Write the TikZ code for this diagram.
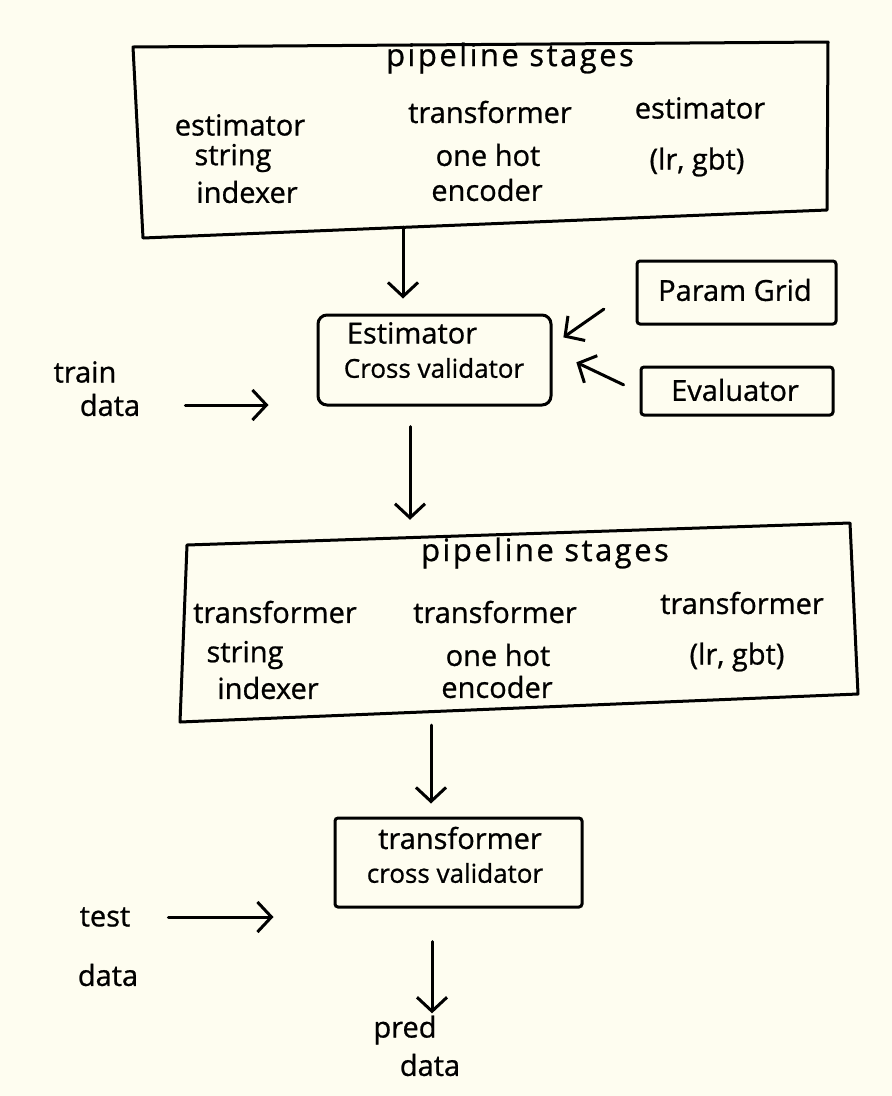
\documentclass[tikz,border=0pt]{standalone}
\usepackage{fontspec}
\setmainfont{Open Sans}[FakeBold=0.8]
\usetikzlibrary{arrows.meta}
\definecolor{paper}{HTML}{FEFDF0}
\begin{document}
\begin{tikzpicture}[x=1pt,y=-1pt,
  txt/.style={inner sep=0pt,font=\fontsize{29}{31}\selectfont},
  ttl/.style={inner sep=0pt,font=\fontsize{31}{33}\selectfont\addfontfeature{LetterSpace=8}},
  stxt/.style={inner sep=0pt,font=\fontsize{26}{28}\selectfont},
  box/.style={draw,line width=3pt,inner sep=0pt,rounded corners=3pt},
  ghost/.style={draw=none,inner sep=0pt},
  outline/.style={line width=3pt,line join=round},
  flow/.style={line width=3pt,line cap=round,-{Straight Barb[length=14pt,width=30pt,line width=3pt]}}]
\fill[paper] (0,0) rectangle (892,1096);
\useasboundingbox (0,0) rectangle (892,1096);
% boxes
\node[ghost,minimum width=693pt,minimum height=182pt] (p1) at (481.5,136) {};
\draw[outline] (133,47) -- (828,42) -- (827,210) -- (143,238) -- cycle;
\node[box,rounded corners=9pt,minimum width=233pt,minimum height=90pt] (cv) at (434.5,360) {};
\node[box,minimum width=199pt,minimum height=63pt] (pg) at (736.5,292.5) {};
\node[box,minimum width=192pt,minimum height=48pt] (ev) at (737,391) {};
\node[ghost,minimum width=672pt,minimum height=177pt] (p2) at (519,623.5) {};
\draw[outline] (187,545) -- (850,523) -- (858,694) -- (180,722) -- cycle;
\node[box,minimum width=247pt,minimum height=89pt] (tcv) at (458.5,862.5) {};
% box 1 texts
\node[ttl] (p1t) at (510,58) {pipeline stages};
\node[txt] (p1a) at (240,125) {estimator};
\node[txt] (p1b) at (233,158) {string};
\node[txt] (p1c) at (247,192) {indexer};
\node[txt] (p1d) at (490,112) {transformer};
\node[txt] (p1e) at (488,155) {one hot};
\node[txt] (p1f) at (487,190) {encoder};
\node[txt] (p1g) at (700,108) {estimator};
\node[txt] (p1h) at (697,162) {(lr, gbt)};
% box 2
\node[txt] (cva) at (412,333) {Estimator};
\node[stxt] (cvb) at (434,368) {Cross validator};
\node[txt] (pgt) at (735,290) {Param Grid};
\node[txt] (evt) at (735,390) {Evaluator};
\node[txt] (train) at (85,372) {train};
\node[txt] (data1) at (110,405) {data};
% box 3
\node[ttl] (p2t) at (545,553) {pipeline stages};
\node[txt] (p2a) at (275,612) {transformer};
\node[txt] (p2b) at (245,655) {string};
\node[txt] (p2c) at (268,688) {indexer};
\node[txt] (p2d) at (495,612) {transformer};
\node[txt] (p2e) at (498,655) {one hot};
\node[txt] (p2f) at (497,687) {encoder};
\node[txt] (p2g) at (742,603) {transformer};
\node[txt] (p2h) at (737,657) {(lr, gbt)};
% box 4
\node[txt] (tcva) at (460,838) {transformer};
\node[stxt] (tcvb) at (455,873) {cross validator};
\node[txt] (test) at (105,917) {test};
\node[txt] (data2) at (108,975) {data};
\node[txt] (pred) at (405,1030) {pred};
\node[txt] (data3) at (430,1065) {data};
% connectors
\draw[flow,shorten >=15pt] (p1.south -| 403,0) -- (cv.north -| 403,0);
\draw[flow,shorten <=20pt,shorten >=15pt] (cv.south -| 410,0) -- (p2.north -| 410,0);
\draw[flow,shorten <=13pt,shorten >=13pt] (p2.south -| 431,0) -- (tcv.north -| 431,0);
\draw[flow,shorten <=33pt,shorten >=2pt] (tcv.south -| 432,0) -- (pred.north -| 432,0);
\draw[flow,shorten <=38.6pt,shorten >=13.3pt] (pg.west |- 0,287) -- (cv.east |- 0,345);
\draw[flow,shorten <=17.6pt,shorten >=26.4pt] (ev.west |- 0,392.4) -- (cv.east |- 0,351);
\draw[flow,shorten <=45pt,shorten >=48pt] (data1.east) -- (data1.east -| cv.west);
\draw[flow,shorten <=38pt,shorten >=60pt] (test.east) -- (test.east -| tcv.west);
\end{tikzpicture}
\end{document}
